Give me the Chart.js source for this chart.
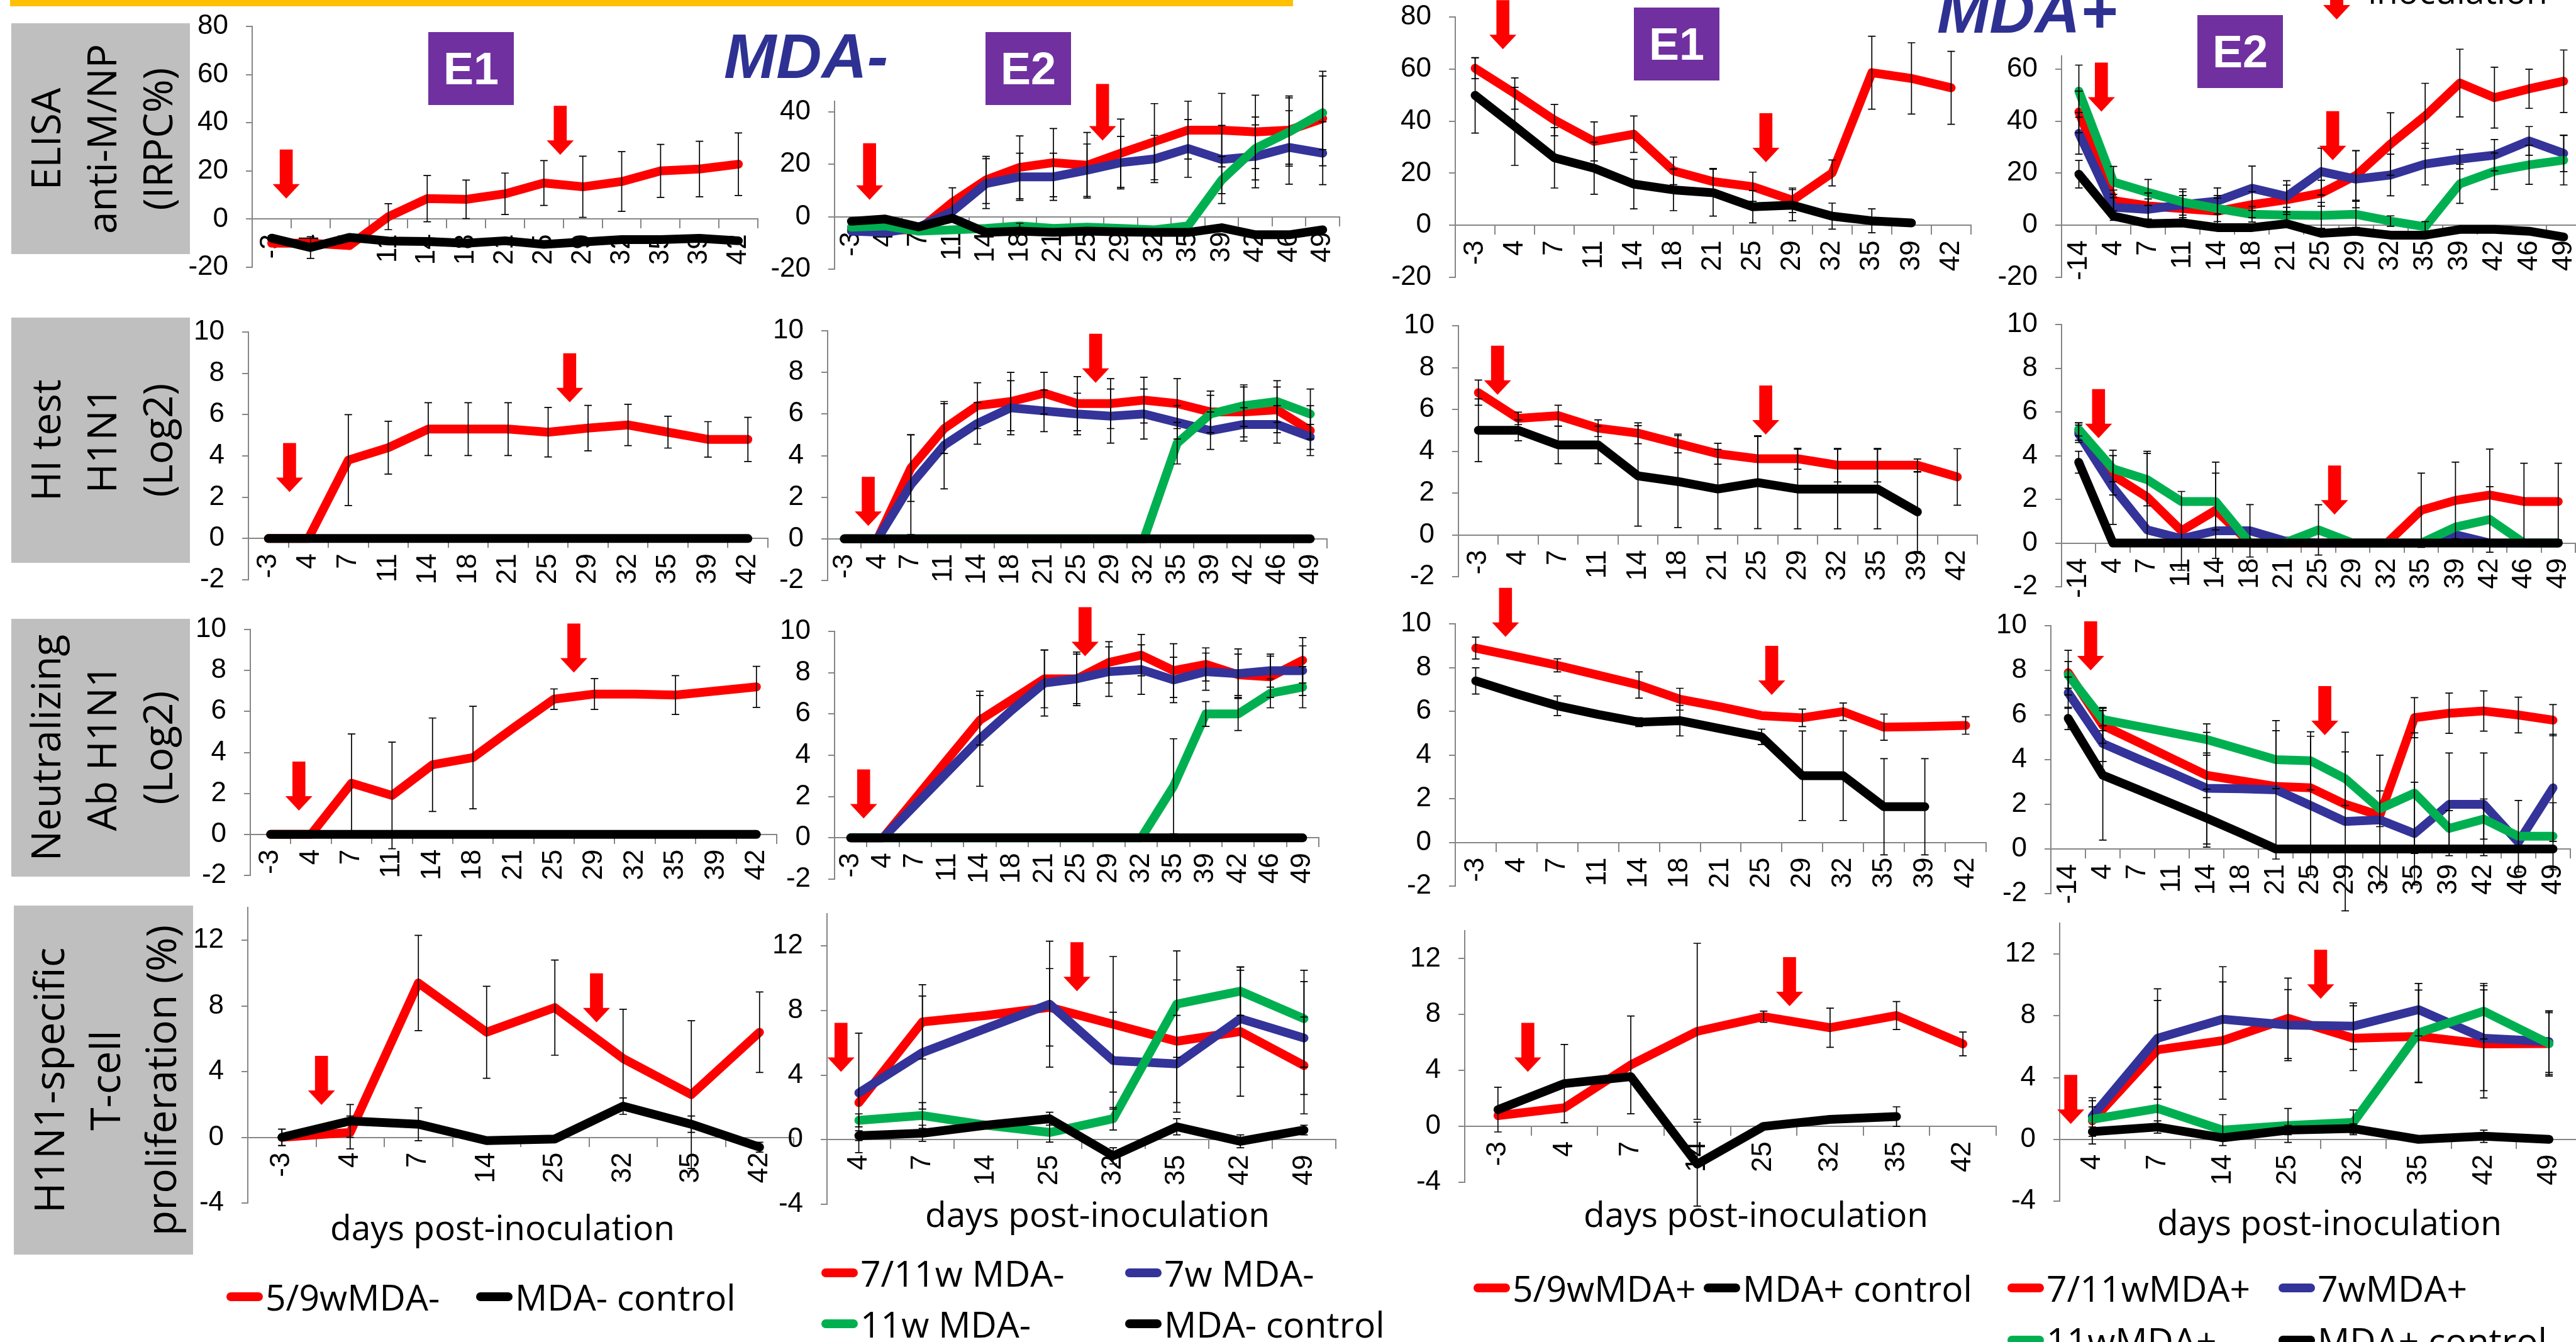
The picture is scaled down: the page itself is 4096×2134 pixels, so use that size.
<!DOCTYPE html>
<html>
<head>
<meta charset="utf-8">
<script src="https://cdn.jsdelivr.net/npm/chart.js"></script>
<style>
html, body { margin: 0; padding: 0; background: #fff; }
body { width: 4096px; height: 2134px; position: relative; overflow: hidden; font-family: 'Liberation Sans', Arial, sans-serif; }
canvas { position: absolute; }
.abs { position: absolute; }
.greybox { position: absolute; background: #bfbfbf; }
.rowlab { position: absolute; white-space: pre; text-align: center; font-family: 'Open Sans', sans-serif; font-size: 64px; line-height: 89px; color: #000; transform: translate(-50%, -50%) rotate(-90deg); }
.ebox { position: absolute; background: #7030a0; color: #fff; font-weight: bold; font-size: 72px; display: flex; align-items: center; justify-content: center; }
.title { position: absolute; font-weight: bold; font-style: italic; font-size: 100px; line-height: 1; color: #2e3192; white-space: nowrap; }
.xtitle { position: absolute; font-family: 'Open Sans', sans-serif; font-size: 55px; line-height: 1; white-space: nowrap; transform: translateX(-50%); }
.leg { position: absolute; display: flex; align-items: center; height: 80px; font-family: 'Open Sans', sans-serif; font-size: 57px; white-space: nowrap; }
.leg span.mk { display: inline-block; width: 58px; height: 14px; border-radius: 7px; margin-right: 4px; }
</style>
</head>
<body>
<script>
// ---------- categories (days post-inoculation) ----------
const daysE1 = ['-3','4','7','11','14','18','21','25','29','32','35','39','42'];
const daysE2Minus = ['-3','4','7','11','14','18','21','25','29','32','35','39','42','46','49'];
const daysE2Plus = ['-14','4','7','11','14','18','21','25','29','32','35','39','42','46','49'];
const daysTcellE1 = ['-3','4','7','14','25','32','35','42'];
const daysTcellE2 = ['4','7','14','25','32','35','42','49'];

// ---------- ELISA, MDA-, E1 ----------
const elisaMinusE1_59w    = [-10,-10,-11,1,8.5,8.2,10.5,15,13.4,15.6,20,20.8,22.8];
const elisaMinusE1_59wErr = [0,0,0,5.4,9.6,8,8.6,9.3,12.7,12.4,11,11.5,13];
const elisaMinusE1_ctrl   = [-7.9,-11.8,-7.6,-9.1,-9.3,-10,-9,-10.5,-9.5,-8.5,-8.5,-8,-9];
const elisaMinusE1_ctrlErr= [1,4.5,1,0,0,0,0,0,0,0,0,0,0];
// ---------- HI, MDA-, E1 ----------
const hiMinusE1_59w    = [0,0,3.8,4.4,5.3,5.3,5.3,5.15,5.35,5.5,5.15,4.8,4.8];
const hiMinusE1_59wErr = [0,0,2.2,1.28,1.28,1.28,1.28,1.2,1.1,1.0,0.77,0.86,1.07];
const hiMinusE1_ctrl   = [0,0,0,0,0,0,0,0,0,0,0,0,0];
// ---------- Neutralizing, MDA-, E1 ----------
const nabMinusE1_59w    = [0,0,2.5,1.9,3.4,3.75,5.2,6.6,6.85,6.85,6.8,7.0,7.2];
const nabMinusE1_59wErr = [0,0,2.4,2.6,2.28,2.5,0,0.5,0.75,0,0.95,0,1];
const nabMinusE1_ctrl   = [0,0,0,0,0,0,0,0,0,0,0,0,0];
// ---------- T-cell, MDA-, E1 ----------
const tcellMinusE1_59w    = [0,0.3,9.4,6.4,7.9,4.8,2.6,6.4];
const tcellMinusE1_59wErr = [0.5,1,2.9,2.8,2.9,3,4.5,2.45];
const tcellMinusE1_ctrl   = [0,1.0,0.8,-0.2,-0.1,1.9,0.8,-0.6];
const tcellMinusE1_ctrlErr= [0.5,1,1,0,0,0.5,0.5,0.3];

// ---------- ELISA, MDA-, E2 ----------
const elisaMinusE2_711w    = [-5,-5,-5,5.5,14,18.8,20.6,19.6,24.2,28.6,33,33,32.3,33,37.4];
const elisaMinusE2_711wErr = [0,0,0,5.5,9,12,13,12.5,13,14.5,11,14,14,13,18];
const elisaMinusE2_7w      = [-5.5,-6,-4,2,12.6,15.2,15.2,17.7,20.6,22,26,21.8,23,26.4,24.2];
const elisaMinusE2_7wErr   = [0,0,0,0,9.5,9,9,10,10,9,11,13,12,14,12];
const elisaMinusE2_11w     = [-4,-3.5,-5.5,-5,-4.5,-3.5,-4.5,-4,-4.5,-5,-3.5,14,26,32.3,39.6];
const elisaMinusE2_11wErr  = [0,0,0,0,0,1,0,0,0,0,0,9,12,13,14];
const elisaMinusE2_ctrl    = [-1.75,-0.9,-3.9,-0.6,-6,-5.5,-6,-5.5,-5.8,-6,-6,-4.2,-6.9,-6.9,-5];
const elisaMinusE2_ctrlErr = [0,0,0,0,0,0,0,0,0,0,0,1,0,0,0];
// ---------- HI, MDA-, E2 ----------
const hiMinusE2_711w    = [0,0,3.4,5.3,6.4,6.6,7.0,6.5,6.5,6.67,6.5,6.1,6.1,6.2,5.2];
const hiMinusE2_711wErr = [0,0,1.6,1.2,1.1,1.4,1.0,1.3,1.2,1.1,1.2,1.0,1.2,1.1,1.2];
const hiMinusE2_7w      = [0,0,2.6,4.5,5.55,6.3,6.15,6.0,5.9,6.0,5.6,5.2,5.5,5.5,4.9];
const hiMinusE2_7wErr   = [0,0,2.4,2.1,1.0,1.3,1.0,1.0,1.3,1.2,0.8,0.9,0.8,0.9,0.6];
const hiMinusE2_11w     = [0,0,0,0,0,0,0,0,0,0,4.6,6.0,6.4,6.6,6.0];
const hiMinusE2_11wErr  = [0,0,0,0,0,0,0,0,0,0,1.0,0.9,1.0,1.0,1.2];
const hiMinusE2_ctrl    = [0,0,0,0,0,0,0,0,0,0,0,0,0,0,0];
// ---------- Neutralizing, MDA-, E2 ----------
const nabMinusE2_711w    = [0,0,1.9,3.8,5.7,6.7,7.7,7.7,8.5,8.85,8.1,8.4,7.9,7.8,8.6];
const nabMinusE2_711wErr = [0,0,0,0,1.2,0,1.4,1.2,1.0,1.0,1.3,0.8,1.0,1.0,1.1];
const nabMinusE2_7w      = [0,0,1.6,3.2,4.8,6.2,7.5,7.7,8.05,8.15,7.65,8.05,7.95,8.1,8.1];
const nabMinusE2_7wErr   = [0,0,0,0,2.3,0,1.6,1.3,1.2,1.2,1.1,0.9,1.2,0.8,1.2];
const nabMinusE2_11w     = [0,0,0,0,0,0,0,0,0,0,2.5,6.0,6.0,7.0,7.3];
const nabMinusE2_11wErr  = [0,0,0,0,0,0,0,0,0,0,2.3,0.6,0.8,0.7,1.0];
const nabMinusE2_ctrl    = [0,0,0,0,0,0,0,0,0,0,0,0,0,0,0];
// ---------- T-cell, MDA-, E2 ----------
const tcellMinusE2_711w    = [2.3,7.3,7.7,8.2,7.15,6.1,6.7,4.6];
const tcellMinusE2_711wErr = [0,2.3,0,2.4,4.2,3.8,4,3];
const tcellMinusE2_7w      = [2.9,5.4,6.9,8.4,4.9,4.7,7.5,6.3];
const tcellMinusE2_7wErr   = [3.7,3.5,0,3.9,3,3,3,3.5];
const tcellMinusE2_11w     = [1.2,1.5,0.9,0.45,1.3,8.4,9.2,7.5];
const tcellMinusE2_11wErr  = [0.4,0.8,0,0.6,0.7,3.3,1.5,3];
const tcellMinusE2_ctrl    = [0.25,0.4,0.9,1.3,-1.0,0.8,-0.1,0.6];
const tcellMinusE2_ctrlErr = [0.3,0.5,0,0.4,0.5,0.5,0.4,0.3];

// ---------- ELISA, MDA+, E1 ----------
const elisaPlusE1_59w    = [60.3,50.6,40.4,32.2,35,20.9,16.8,14.8,9.6,20.1,58.6,56.4,52.8];
const elisaPlusE1_59wErr = [4,6,6,7.5,7,5.3,5,5.6,4.7,5,14,13.7,14];
const elisaPlusE1_ctrl   = [49.9,38,25.9,21.9,15.8,13.6,12.5,7.1,7.7,3.5,1.7,0.9,null];
const elisaPlusE1_ctrlErr= [14.5,15,11.6,10,9.5,8,9,6.2,6,5,4.6,0,0];
// ---------- HI, MDA+, E1 ----------
const hiPlusE1_59w    = [6.8,5.57,5.7,5.1,4.86,4.37,3.88,3.64,3.64,3.33,3.33,3.33,2.77];
const hiPlusE1_59wErr = [0.6,0.3,0.5,0.4,0.5,0.45,0.5,1.1,0.5,0.8,0.8,0.3,1.35];
const hiPlusE1_ctrl   = [5.0,5.0,4.3,4.3,2.82,2.55,2.19,2.5,2.19,2.19,2.19,1.1,null];
const hiPlusE1_ctrlErr= [1.5,0.5,0.9,0.9,2.4,2.2,1.9,2.2,1.9,1.9,1.9,1.9,0];
// ---------- Neutralizing, MDA+, E1 ----------
const nabPlusE1_59w    = [8.89,8.5,8.1,7.65,7.2,6.55,6.2,5.8,5.7,5.98,5.27,5.3,5.35];
const nabPlusE1_59wErr = [0.5,0,0.3,0,0.6,0.5,0,0,0.4,0.4,0.6,0,0.4];
const nabPlusE1_ctrl   = [7.39,6.8,6.25,5.85,5.5,5.57,5.2,4.83,3.05,3.05,1.63,1.63,null];
const nabPlusE1_ctrlErr= [0.6,0,0.45,0,0.2,0.7,0,0.35,2.05,2.05,2.2,2.2,0];
// ---------- T-cell, MDA+, E1 ----------
const tcellPlusE1_59w    = [0.77,1.33,4.4,6.8,7.85,7.06,7.93,5.9];
const tcellPlusE1_59wErr = [0,0,3.5,6.3,0.4,1.4,1,0.85];
const tcellPlusE1_ctrl   = [1.2,3.06,3.56,-2.7,0,0.5,0.7,null];
const tcellPlusE1_ctrlErr= [1.6,2.8,0,3,0.2,0,0.7,0];

// ---------- ELISA, MDA+, E2 ----------
const elisaPlusE2_711w    = [43.5,9.5,7.4,6.4,5.4,7.9,9.8,12.3,19.1,31.2,42,54.6,49,52.4,55.3];
const elisaPlusE2_711wErr = [8,4,5,5,5,5,5.6,5,9.5,12,12.5,13,11.7,7.5,12];
const elisaPlusE2_7w      = [35.3,6.9,6.1,7.9,9.3,14.2,11.1,20.6,17.7,19.3,23.5,25.4,26.9,32.4,27.6];
const elisaPlusE2_7wErr   = [8,5,4,5,5,8.5,6,9,11,8,8,3.7,6,5.5,7];
const elisaPlusE2_11w     = [51.5,16.6,12.6,8.9,6.4,4.2,3.9,3.8,4.2,1.6,-0.6,15.9,20.7,23.2,25];
const elisaPlusE2_11wErr  = [10,6,5,5,5,3,3,5,5,2,2,7.5,7,7.5,9.5];
const elisaPlusE2_ctrl    = [19.6,3.5,0.6,0.9,-0.9,-0.9,0.6,-3.1,-2.3,-3.8,-3.8,-1.6,-1.6,-2.3,-4.5];
const elisaPlusE2_ctrlErr = [5.3,0,0,0,0,0,0,0,0,0,0,0,0,0,0];
// ---------- HI, MDA+, E2 ----------
const hiPlusE2_711w    = [5.1,3.1,2.1,0.56,1.5,0,0,0,0,0,1.5,1.95,2.2,1.9,1.9];
const hiPlusE2_711wErr = [0.4,0.9,2.1,1.8,2.2,0,0,0,0,0,1.7,1.75,2.1,1.75,1.75];
const hiPlusE2_7w      = [5.0,2.55,0.6,0.2,0.56,0.56,0.1,0,0,0,0,0.38,0,0,0];
const hiPlusE2_7wErr   = [0.4,1.7,0,0,0,1.2,0,0,0,0,0,0,0,0,0];
const hiPlusE2_11w     = [5.2,3.4,2.9,1.9,1.9,0,0,0.6,0,0,0,0.73,1.08,0,0];
const hiPlusE2_11wErr  = [0.3,0.6,1.2,0,1.3,0,0,1.15,0,0,0,0,1.5,0,0];
const hiPlusE2_ctrl    = [3.7,0,0,0,0,0,0,0,0,0,0,0,0,0,0];
const hiPlusE2_ctrlErr = [0.5,0,0,0,0,0,0,0,0,0,0,0,0,0,0];
// ---------- Neutralizing, MDA+, E2 ----------
const nabPlusE2_711w    = [7.9,5.54,4.8,4.05,3.3,3.05,2.8,2.74,2.0,1.5,5.88,6.08,6.18,6.0,5.77];
const nabPlusE2_711wErr = [1,0.8,0,0,1,0,0,0,0,0,0.9,0.9,0.9,0.8,0.7];
const nabPlusE2_7w      = [7.0,4.72,4.05,3.4,2.72,2.7,2.65,1.95,1.23,1.3,0.69,2.0,2.0,0.3,2.74];
const nabPlusE2_7wErr   = [0.7,0.8,0,0,2.5,0,3.1,3.1,4,2.9,2.3,2.3,2.3,0,2.4];
const nabPlusE2_11w     = [7.8,5.8,5.5,5.2,4.9,4.45,4.0,3.95,3.15,1.8,2.5,0.92,1.34,0.57,0.57];
const nabPlusE2_11wErr  = [0.6,0.5,0,0,0.7,0,1.3,1.3,1.2,0.8,2.7,0.8,0.9,1.6,1.5];
const nabPlusE2_ctrl    = [5.85,3.3,2.67,2.03,1.38,0.7,0,0,0,0,0,0,0,0,0];
const nabPlusE2_ctrlErr = [0.5,2.9,0,0,1.3,0,0,0,0,0,0,0,0,0,0];
// ---------- T-cell, MDA+, E2 ----------
const tcellPlusE2_711w    = [1.2,5.8,6.4,7.84,6.55,6.67,6.18,6.2];
const tcellPlusE2_711wErr = [1.5,3.2,3.8,2.6,2.1,3,3.5,2];
const tcellPlusE2_7w      = [1.5,6.55,7.78,7.4,7.33,8.4,6.55,6.33];
const tcellPlusE2_7wErr   = [1,3.2,3.4,2.3,1.5,1.7,3.4,2];
const tcellPlusE2_11w     = [1.3,2.0,0.6,0.9,1.1,6.9,8.3,6.2];
const tcellPlusE2_11wErr  = [0.8,1.4,1,1.1,0.8,3.2,1.8,2.1];
const tcellPlusE2_ctrl    = [0.5,0.8,0.1,0.6,0.7,0.0,0.2,0.0];
const tcellPlusE2_ctrlErr = [0.3,0.4,0,0.3,0.3,0,0.4,0];

// ---------- inoculation arrows: [category index, value at arrow tip] ----------
const arrowsElisaMinusE1 = [[0.375, 8.5], [7.42, 26.7]];
const arrowsHiMinusE1    = [[0.53, 2.25], [7.54, 6.6]];
const arrowsNabMinusE1   = [[0.7, 1.16], [7.49, 7.9]];
const arrowsTcellMinusE1 = [[0.58, 1.97], [4.61, 7.0]];
const arrowsElisaMinusE2 = [[0.54, 6.4], [7.46, 29]];
const arrowsHiMinusE2    = [[0.72, 0.62], [7.55, 7.5]];
const arrowsNabMinusE2   = [[0.4, 0.94], [7.26, 8.8]];
const arrowsTcellMinusE2 = [[-0.28, 4.2], [3.43, 9.2]];
const arrowsElisaPlusE1  = [[0.7, 67.6], [7.33, 24.2]];
const arrowsHiPlusE1     = [[0.48, 6.7], [7.2, 4.8]];
const arrowsNabPlusE1    = [[0.73, 9.4], [7.25, 6.75]];
const arrowsTcellPlusE1  = [[0.45, 3.9], [4.39, 8.6]];
const arrowsElisaPlusE2  = [[0.65, 43.6], [7.33, 25]];
const arrowsHiPlusE2     = [[0.58, 4.8], [7.47, 1.3]];
const arrowsNabPlusE2    = [[0.65, 8.0], [7.41, 5.1]];
const arrowsTcellPlusE2  = [[-0.33, 1.0], [3.5, 9.1]];

// ---------- axis ticks ----------
const ticksElisa = [-20, 0, 20, 40, 60, 80];
const ticksElisaE2Minus = [-20, 0, 20, 40];
const ticksElisaE2Plus = [-20, 0, 20, 40, 60];
const ticksLog2 = [-2, 0, 2, 4, 6, 8, 10];
const ticksTcell = [-4, 0, 4, 8, 12];

// ---------- legends ----------
const legendMinusE1 = ['5/9wMDA-', 'MDA- control'];
const legendMinusE2 = ['7/11w MDA-', '7w MDA-', '11w MDA-', 'MDA- control'];
const legendPlusE1 = ['5/9wMDA+', 'MDA+ control'];
const legendPlusE2 = ['7/11wMDA+', '7wMDA+', '11wMDA+', 'MDA+ control'];

const RED = '#ff0000', BLUE = '#333399', GREEN = '#00b050', BLACK = '#000000';
const AXIS = '#868686';
const YW = 130, PT = 70, PB = 50, PR = 30;

Chart.defaults.font.family = "'Liberation Sans', Arial, sans-serif";

// error bars drawn on top of the lines
const errorBarPlugin = {
  id: 'errorBars',
  afterDatasetsDraw(chart) {
    const ctx = chart.ctx, xs = chart.scales.x, ys = chart.scales.y;
    ctx.save();
    ctx.strokeStyle = '#000';
    ctx.lineWidth = 1.7;
    chart.data.datasets.forEach(ds => {
      if (!ds.errors) return;
      ds.data.forEach((v, i) => {
        const e = ds.errors[i];
        if (v === null || !e) return;
        const px = xs.getPixelForValue(i);
        const y1 = ys.getPixelForValue(v - e), y2 = ys.getPixelForValue(v + e);
        ctx.beginPath();
        ctx.moveTo(px, y1); ctx.lineTo(px, y2);
        ctx.moveTo(px - 6, y1); ctx.lineTo(px + 6, y1);
        ctx.moveTo(px - 6, y2); ctx.lineTo(px + 6, y2);
        ctx.stroke();
      });
    });
    ctx.restore();
  }
};

// red down arrows marking inoculations
const arrowPlugin = {
  id: 'arrows',
  afterDraw(chart, args, opts) {
    const ctx = chart.ctx, xs = chart.scales.x, ys = chart.scales.y;
    const L = opts.len || 78, hw = 21.5, sw = 10.3, hl = 23;
    ctx.save();
    ctx.fillStyle = RED;
    (opts.list || []).forEach(([idx, val]) => {
      const px = xs.getPixelForValue(idx), tip = ys.getPixelForValue(val);
      ctx.beginPath();
      ctx.moveTo(px - sw, tip - L);
      ctx.lineTo(px + sw, tip - L);
      ctx.lineTo(px + sw, tip - hl);
      ctx.lineTo(px + hw, tip - hl);
      ctx.lineTo(px, tip);
      ctx.lineTo(px - hw, tip - hl);
      ctx.lineTo(px - sw, tip - hl);
      ctx.closePath();
      ctx.fill();
    });
    ctx.restore();
  }
};

function makePanel(p) {
  const c = document.createElement('canvas');
  const w = Math.round(p.xe - p.ax + YW + PR);
  const h = Math.round(p.yb - p.yt + PT + PB);
  c.width = w; c.height = h;
  c.style.width = w + 'px'; c.style.height = h + 'px';
  c.style.left = Math.round(p.ax - YW) + 'px';
  c.style.top = Math.round(p.yt - PT) + 'px';
  document.body.appendChild(c);

  new Chart(c, {
    type: 'line',
    data: {
      labels: p.labels,
      datasets: p.series.map((s, i) => ({
        data: s[0],
        errors: s[1],
        borderColor: s[2],
        backgroundColor: s[2],
        borderWidth: 14,
        pointRadius: 0,
        pointHoverRadius: 0,
        borderCapStyle: 'round',
        borderJoinStyle: 'round',
        tension: 0,
        clip: false,
        order: i
      }))
    },
    options: {
      responsive: false,
      animation: false,
      devicePixelRatio: 1,
      events: [],
      layout: { padding: { left: 0, top: PT, right: PR, bottom: PB } },
      plugins: {
        legend: { display: false },
        tooltip: { enabled: false },
        arrows: { list: p.arrows, len: p.alen }
      },
      scales: {
        x: {
          type: 'category',
          offset: true,
          position: { y: 0 },
          grid: { display: true, offset: true, drawOnChartArea: false, drawTicks: true, tickLength: 14, color: AXIS, lineWidth: 2 },
          border: { display: true, color: AXIS, width: 2 },
          ticks: { autoSkip: false, minRotation: 90, maxRotation: 90, padding: 10, color: '#000', font: { size: 44 } },
          afterFit: s => { s.paddingLeft = 0; s.paddingRight = 0; s.paddingTop = 0; s.paddingBottom = 0; }
        },
        y: {
          type: 'linear',
          position: 'left',
          min: p.min,
          max: p.max,
          afterBuildTicks: s => { s.ticks = p.ticks.map(v => ({ value: v })); },
          grid: { display: true, drawOnChartArea: false, drawTicks: true, tickLength: 10, color: AXIS, lineWidth: 2 },
          border: { display: true, color: AXIS, width: 2 },
          ticks: { padding: 28, color: '#000', font: { size: 44 } },
          afterFit: s => { s.width = YW; s.paddingTop = 0; s.paddingBottom = 0; }
        }
      }
    },
    plugins: [errorBarPlugin, arrowPlugin]
  });
}

// series listed top-most first: control, 11w, 7w, 7/11w (or 5/9w)
const panels = [
  // row 1 : ELISA
  { ax: 401, xe: 1205, yt: 42, yb: 425, min: -20, max: 80, ticks: ticksElisa, labels: daysE1, arrows: arrowsElisaMinusE1,
    series: [[elisaMinusE1_ctrl, elisaMinusE1_ctrlErr, BLACK], [elisaMinusE1_59w, elisaMinusE1_59wErr, RED]] },
  { ax: 1327, xe: 2130, yt: 161, yb: 428, min: -20, max: 44, ticks: ticksElisaE2Minus, labels: daysE2Minus, arrows: arrowsElisaMinusE2, alen: 90,
    series: [[elisaMinusE2_ctrl, elisaMinusE2_ctrlErr, BLACK], [elisaMinusE2_11w, elisaMinusE2_11wErr, GREEN], [elisaMinusE2_7w, elisaMinusE2_7wErr, BLUE], [elisaMinusE2_711w, elisaMinusE2_711wErr, RED]] },
  { ax: 2314, xe: 3134, yt: 27, yb: 441, min: -20, max: 80, ticks: ticksElisa, labels: daysE1, arrows: arrowsElisaPlusE1,
    series: [[elisaPlusE1_ctrl, elisaPlusE1_ctrlErr, BLACK], [elisaPlusE1_59w, elisaPlusE1_59wErr, RED]] },
  { ax: 3278, xe: 4104, yt: 89, yb: 441, min: -20, max: 65, ticks: ticksElisaE2Plus, labels: daysE2Plus, arrows: arrowsElisaPlusE2,
    series: [[elisaPlusE2_ctrl, elisaPlusE2_ctrlErr, BLACK], [elisaPlusE2_11w, elisaPlusE2_11wErr, GREEN], [elisaPlusE2_7w, elisaPlusE2_7wErr, BLUE], [elisaPlusE2_711w, elisaPlusE2_711wErr, RED]] },
  // row 2 : HI test
  { ax: 395, xe: 1221, yt: 528, yb: 922, min: -2, max: 10, ticks: ticksLog2, labels: daysE1, arrows: arrowsHiMinusE1,
    series: [[hiMinusE1_ctrl, null, BLACK], [hiMinusE1_59w, hiMinusE1_59wErr, RED]] },
  { ax: 1316, xe: 2110, yt: 526, yb: 923, min: -2, max: 10, ticks: ticksLog2, labels: daysE2Minus, arrows: arrowsHiMinusE2,
    series: [[hiMinusE2_ctrl, null, BLACK], [hiMinusE2_11w, hiMinusE2_11wErr, GREEN], [hiMinusE2_7w, hiMinusE2_7wErr, BLUE], [hiMinusE2_711w, hiMinusE2_711wErr, RED]] },
  { ax: 2319, xe: 3144, yt: 518, yb: 917, min: -2, max: 10, ticks: ticksLog2, labels: daysE1, arrows: arrowsHiPlusE1,
    series: [[hiPlusE1_ctrl, hiPlusE1_ctrlErr, BLACK], [hiPlusE1_59w, hiPlusE1_59wErr, RED]] },
  { ax: 3278, xe: 4095, yt: 516, yb: 933, min: -2, max: 10, ticks: ticksLog2, labels: daysE2Plus, arrows: arrowsHiPlusE2,
    series: [[hiPlusE2_ctrl, hiPlusE2_ctrlErr, BLACK], [hiPlusE2_11w, hiPlusE2_11wErr, GREEN], [hiPlusE2_7w, hiPlusE2_7wErr, BLUE], [hiPlusE2_711w, hiPlusE2_711wErr, RED]] },
  // row 3 : Neutralizing Ab
  { ax: 398, xe: 1235, yt: 1001, yb: 1392, min: -2, max: 10, ticks: ticksLog2, labels: daysE1, arrows: arrowsNabMinusE1,
    series: [[nabMinusE1_ctrl, null, BLACK], [nabMinusE1_59w, nabMinusE1_59wErr, RED]] },
  { ax: 1327, xe: 2097, yt: 1004, yb: 1398, min: -2, max: 10, ticks: ticksLog2, labels: daysE2Minus, arrows: arrowsNabMinusE2,
    series: [[nabMinusE2_ctrl, null, BLACK], [nabMinusE2_11w, nabMinusE2_11wErr, GREEN], [nabMinusE2_7w, nabMinusE2_7wErr, BLUE], [nabMinusE2_711w, nabMinusE2_711wErr, RED]] },
  { ax: 2314, xe: 3158, yt: 992, yb: 1409, min: -2, max: 10, ticks: ticksLog2, labels: daysE1, arrows: arrowsNabPlusE1,
    series: [[nabPlusE1_ctrl, nabPlusE1_ctrlErr, BLACK], [nabPlusE1_59w, nabPlusE1_59wErr, RED]] },
  { ax: 3261, xe: 4087, yt: 995, yb: 1421, min: -2, max: 10, ticks: ticksLog2, labels: daysE2Plus, arrows: arrowsNabPlusE2,
    series: [[nabPlusE2_ctrl, nabPlusE2_ctrlErr, BLACK], [nabPlusE2_11w, nabPlusE2_11wErr, GREEN], [nabPlusE2_7w, nabPlusE2_7wErr, BLUE], [nabPlusE2_711w, nabPlusE2_711wErr, RED]] },
  // row 4 : T-cell proliferation
  { ax: 394, xe: 1262, yt: 1443, yb: 1913, min: -4, max: 14, ticks: ticksTcell, labels: daysTcellE1, arrows: arrowsTcellMinusE1,
    series: [[tcellMinusE1_ctrl, tcellMinusE1_ctrlErr, BLACK], [tcellMinusE1_59w, tcellMinusE1_59wErr, RED]] },
  { ax: 1315, xe: 2124, yt: 1453, yb: 1915, min: -4, max: 14, ticks: ticksTcell, labels: daysTcellE2, arrows: arrowsTcellMinusE2,
    series: [[tcellMinusE2_ctrl, tcellMinusE2_ctrlErr, BLACK], [tcellMinusE2_11w, tcellMinusE2_11wErr, GREEN], [tcellMinusE2_7w, tcellMinusE2_7wErr, BLUE], [tcellMinusE2_711w, tcellMinusE2_711wErr, RED]] },
  { ax: 2329, xe: 3174, yt: 1480, yb: 1880, min: -4, max: 14, ticks: ticksTcell, labels: daysTcellE1, arrows: arrowsTcellPlusE1,
    series: [[tcellPlusE1_ctrl, tcellPlusE1_ctrlErr, BLACK], [tcellPlusE1_59w, tcellPlusE1_59wErr, RED]] },
  { ax: 3275, xe: 4105, yt: 1468, yb: 1910, min: -4, max: 14, ticks: ticksTcell, labels: daysTcellE2, arrows: arrowsTcellPlusE2,
    series: [[tcellPlusE2_ctrl, tcellPlusE2_ctrlErr, BLACK], [tcellPlusE2_11w, tcellPlusE2_11wErr, GREEN], [tcellPlusE2_7w, tcellPlusE2_7wErr, BLUE], [tcellPlusE2_711w, tcellPlusE2_711wErr, RED]] }
];

panels.forEach(makePanel);

// ---------- surrounding text ----------
function addDiv(cls, css, html) {
  const d = document.createElement('div');
  d.className = cls;
  Object.assign(d.style, css);
  d.innerHTML = html;
  document.body.appendChild(d);
  return d;
}

// yellow banner (cut off at the top)
addDiv('abs', { left: '16px', top: '0px', width: '2040px', height: '10px', background: '#ffc000' }, '');

// row labels in grey boxes
const rowBoxes = [
  { x: 18, y: 37, w: 284, h: 367, text: 'ELISA\nanti-M/NP\n(IRPC%)', size: 64 },
  { x: 18, y: 505, w: 284, h: 390, text: 'HI test\nH1N1\n(Log2)', size: 64 },
  { x: 18, y: 984, w: 284, h: 410, text: 'Neutralizing\nAb H1N1\n(Log2)', size: 64 },
  { x: 22, y: 1440, w: 285, h: 555, text: 'H1N1-specific\nT-cell\nproliferation (%)', size: 66 }
];
rowBoxes.forEach(b => {
  addDiv('greybox', { left: b.x + 'px', top: b.y + 'px', width: b.w + 'px', height: b.h + 'px' }, '');
  addDiv('rowlab', { left: (b.x + b.w / 2) + 'px', top: (b.y + b.h / 2) + 'px', fontSize: b.size + 'px' }, b.text);
});

// experiment tags
addDiv('ebox', { left: '681px', top: '51px', width: '136px', height: '116px' }, 'E1');
addDiv('ebox', { left: '1567px', top: '51px', width: '136px', height: '116px' }, 'E2');
addDiv('ebox', { left: '2598px', top: '12px', width: '136px', height: '116px' }, 'E1');
addDiv('ebox', { left: '3494px', top: '24px', width: '136px', height: '116px' }, 'E2');

// group titles
addDiv('title', { left: '1151px', top: '39px' }, 'MDA-');
addDiv('title', { left: '3080px', top: '-33px' }, 'MDA+');

// arrow key, top right (mostly cut off)
addDiv('xtitle', { left: '3908px', top: '-43px' }, 'inoculation');
addDiv('abs', { left: '3694px', top: '-40px', width: '43px', height: '71px' },
  '<svg width="43" height="71"><polygon points="11,0 32,0 32,48 43,48 21.5,71 0,48 11,48" fill="#ff0000"/></svg>');

// x axis titles
[[799, 1972], [1745, 1951], [2792, 1951], [3704, 1964]].forEach(([cx, base]) => {
  addDiv('xtitle', { left: cx + 'px', top: (base - 49) + 'px' }, 'days post-inoculation');
});

// legends
function legendItem(x, cy, color, text) {
  addDiv('leg', { left: x + 'px', top: (cy - 40) + 'px' }, '<span class="mk" style="background:' + color + '"></span>' + text);
}
legendItem(360, 2062, RED, legendMinusE1[0]);
legendItem(757, 2062, BLACK, legendMinusE1[1]);
legendItem(1306, 2024, RED, legendMinusE2[0]);
legendItem(1789, 2024, BLUE, legendMinusE2[1]);
legendItem(1306, 2105, GREEN, legendMinusE2[2]);
legendItem(1789, 2105, BLACK, legendMinusE2[3]);
legendItem(2343, 2048, RED, legendPlusE1[0]);
legendItem(2709, 2048, BLACK, legendPlusE1[1]);
legendItem(3192, 2048, RED, legendPlusE2[0]);
legendItem(3623, 2048, BLUE, legendPlusE2[1]);
legendItem(3192, 2131, GREEN, legendPlusE2[2]);
legendItem(3623, 2131, BLACK, legendPlusE2[3]);
</script>
</body>
</html>
